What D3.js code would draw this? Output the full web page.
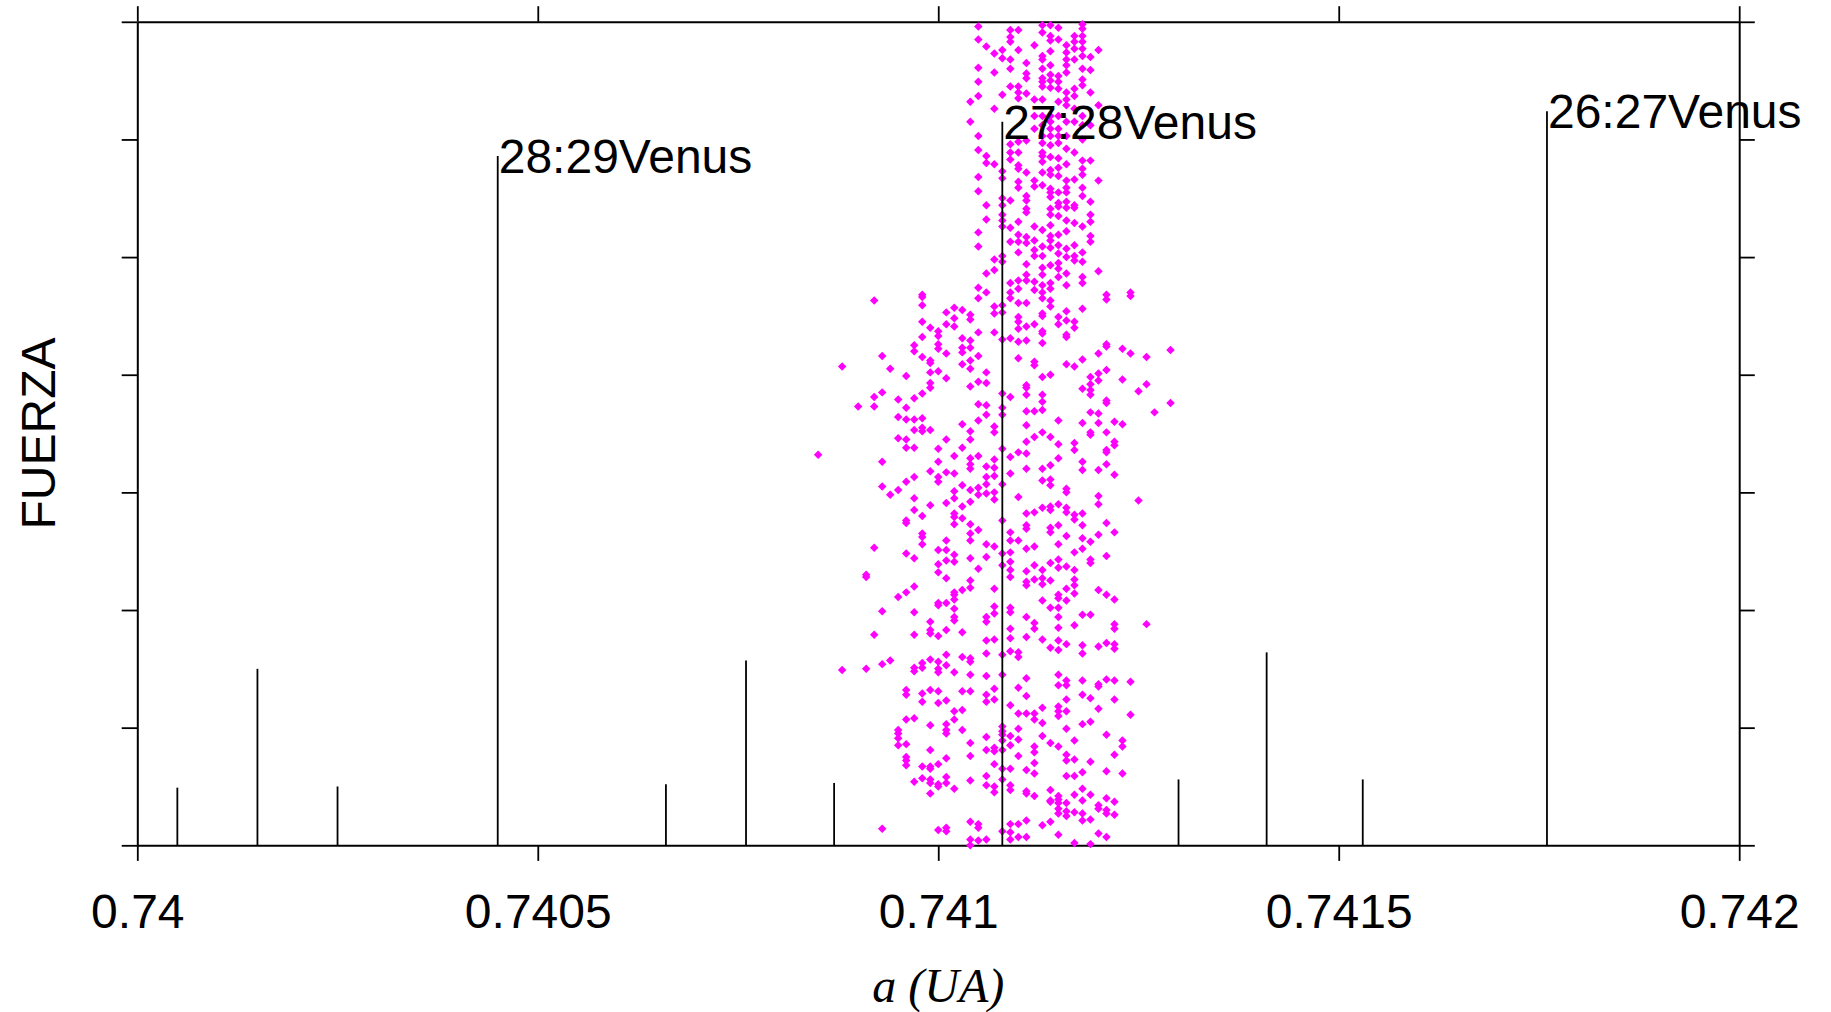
<!DOCTYPE html>
<html>
<head>
<meta charset="utf-8">
<script src="https://cdn.jsdelivr.net/npm/d3@7"></script>
<style>
    body { margin: 0; background: #fff; }
    svg { display: block; background: #fff; }
</style>
</head>
<body>
<div id="content-container"></div>
<script>
// axis ticks
const xTicks = [0.74, 0.7405, 0.741, 0.7415, 0.742]
const xTickLabels = ['0.74', '0.7405', '0.741', '0.7415', '0.742']
const yTicks = [0, 1, 2, 3, 4, 5, 6, 7]

// resonances (a in UA, strength)
const resA = [0.74005, 0.74015, 0.74025, 0.74045, 0.74066, 0.74076, 0.74087, 0.74108, 0.7413, 0.74141, 0.74153, 0.74176]
const resF = [0.49, 1.50, 0.50, 5.86, 0.52, 1.57, 0.53, 6.15, 0.56, 1.64, 0.56, 6.24]
const resLabel = ['', '', '', '28:29Venus', '', '', '', '27:28Venus', '', '', '', '26:27Venus']

// particles: one column per value of a, with the y values of that column
const dotColA = [0.74085, 0.74088, 0.7409, 0.74091, 0.74092, 0.74093, 0.74094, 0.74095, 0.74096, 0.74097,
    0.74098, 0.74099, 0.741, 0.74101, 0.74102, 0.74103, 0.74104, 0.74105, 0.74106, 0.74107,
    0.74108, 0.74109, 0.7411, 0.74111, 0.74112, 0.74113, 0.74114, 0.74115, 0.74116, 0.74117,
    0.74118, 0.74119, 0.7412, 0.74121, 0.74122, 0.74123, 0.74124, 0.74125, 0.74126, 0.74127, 0.74129]
const dotColF = [
    [3.32],
    [4.07, 1.49],
    [3.73],
    [2.30, 2.28, 1.50],
    [4.63, 3.81, 3.73, 2.53, 1.79],
    [4.16, 3.85, 3.26, 3.05, 1.99, 1.54, 0.14],
    [4.05, 2.98, 1.57],
    [3.79, 3.64, 3.46, 3.02, 2.11, 0.98, 0.95, 0.91, 0.85],
    [3.99, 3.72, 3.62, 3.45, 3.38, 3.09, 2.76, 2.74, 2.48, 2.15, 1.32, 1.28, 1.07, 0.86, 0.75, 0.72, 0.68],
    [4.25, 4.20, 3.80, 3.62, 3.53, 3.38, 3.13, 2.95, 2.85, 2.44, 2.20, 1.98, 1.79, 1.51, 1.48, 1.08, 0.54],
    [4.68, 4.66, 4.59, 4.45, 4.32, 4.15, 3.84, 3.63, 3.55, 3.52, 2.80, 2.65, 2.62, 2.56, 1.55, 1.51, 1.29, 1.22, 0.67, 0.57],
    [4.40, 4.12, 4.10, 4.02, 3.93, 3.89, 3.53, 3.18, 2.89, 1.90, 1.83, 1.80, 1.58, 1.32, 1.02, 0.81, 0.67, 0.65, 0.56, 0.53, 0.44],
    [4.37, 4.33, 4.26, 4.22, 4.03, 3.37, 3.26, 3.13, 3.09, 2.51, 2.39, 2.32, 2.06, 2.04, 1.78, 1.56, 1.50, 1.47, 1.31, 1.21, 0.69, 0.52, 0.50, 0.13],
    [4.53, 4.43, 4.18, 3.97, 3.45, 3.17, 2.91, 2.59, 2.51, 2.42, 2.27, 2.06, 1.83, 1.62, 1.53, 1.23, 1.03, 0.98, 0.95, 0.74, 0.58, 0.53, 0.15, 0.12],
    [4.57, 4.48, 4.41, 3.31, 3.16, 3.01, 2.95, 2.82, 2.79, 2.73, 2.47, 2.41, 2.15, 2.13, 2.09, 2.01, 1.94, 1.91, 1.47, 1.14, 1.07, 0.48],
    [4.55, 4.31, 4.23, 4.19, 4.09, 3.58, 3.38, 3.06, 2.88, 2.78, 2.17, 1.81, 1.60, 1.31, 1.15, 0.98],
    [6.32, 6.15, 4.51, 4.47, 4.29, 4.23, 4.12, 4.05, 3.90, 3.52, 3.45, 3.29, 3.24, 3.20, 3.02, 2.92, 2.73, 2.65, 2.59, 2.44, 2.25, 2.19, 1.59, 1.56, 1.45, 1.31, 0.87, 0.76, 0.55, 0.20, 0.05, 0.00],
    [6.96, 6.85, 6.61, 6.49, 6.37, 6.03, 5.91, 5.68, 5.56, 5.21, 5.09, 4.74, 4.65, 4.36, 4.16, 3.94, 3.75, 3.61, 3.31, 3.04, 2.98, 2.68, 2.35, 0.18, 0.15, 0.04],
    [6.79, 5.86, 5.80, 5.44, 5.32, 4.86, 4.70, 4.02, 3.93, 3.74, 3.66, 3.22, 3.13, 3.07, 2.99, 2.56, 2.45, 1.94, 1.90, 1.74, 1.63, 1.44, 1.28, 1.22, 0.92, 0.81, 0.59, 0.51, 0.05],
    [6.73, 6.57, 6.26, 5.79, 4.98, 4.89, 4.58, 4.52, 4.36, 3.56, 3.51, 3.28, 3.21, 3.14, 3.00, 2.94, 2.54, 2.18, 2.03, 1.97, 1.75, 1.33, 1.24, 0.83, 0.80, 0.69, 0.50, 0.45],
    [6.76, 6.69, 6.38, 5.73, 5.67, 5.50, 5.44, 5.36, 5.31, 5.26, 5.01, 4.96, 4.59, 4.53, 4.30, 3.84, 3.72, 3.66, 3.37, 3.07, 2.76, 2.48, 2.38, 1.62, 1.45, 1.01, 0.97, 0.94, 0.89, 0.81, 0.65, 0.56, 0.12],
    [6.93, 6.87, 6.83, 6.68, 6.60, 6.45, 5.96, 5.89, 5.83, 5.48, 5.25, 5.13, 4.78, 4.70, 4.65, 4.31, 3.81, 3.30, 3.16, 2.66, 2.59, 2.49, 2.41, 2.34, 2.28, 2.02, 1.98, 1.84, 1.76, 1.65, 1.19, 0.93, 0.85, 0.65, 0.51, 0.47, 0.18, 0.11, 0.05],
    [6.93, 6.76, 6.45, 6.40, 6.35, 5.98, 5.89, 5.78, 5.75, 5.64, 5.59, 5.30, 5.19, 5.13, 5.04, 4.80, 4.73, 4.61, 4.49, 4.45, 4.39, 4.28, 4.14, 3.34, 2.96, 2.59, 1.64, 1.60, 1.34, 1.12, 0.99, 0.90, 0.76, 0.18, 0.07],
    [6.65, 6.56, 6.52, 6.39, 5.99, 5.72, 5.52, 5.48, 5.41, 5.38, 5.17, 5.12, 4.94, 4.85, 4.80, 4.61, 4.41, 4.29, 3.91, 3.89, 3.83, 3.69, 3.57, 3.43, 3.33, 3.20, 2.82, 2.72, 2.69, 2.52, 2.33, 2.24, 2.21, 1.94, 1.77, 1.42, 1.27, 1.12, 0.64, 0.46, 0.44, 0.21, 0.07],
    [6.80, 6.34, 6.20, 6.09, 5.65, 5.60, 5.26, 5.14, 5.06, 5.01, 4.79, 4.72, 4.43, 4.11, 4.08, 3.69, 3.47, 2.83, 2.54, 2.38, 2.26, 1.89, 1.84, 1.12, 1.07, 0.84, 0.79, 0.70, 0.61, 0.42],
    [6.97, 6.91, 6.71, 6.68, 6.60, 6.52, 6.49, 6.45, 6.34, 6.20, 6.12, 6.03, 5.97, 5.89, 5.86, 5.81, 5.72, 5.61, 5.23, 5.09, 5.01, 4.91, 4.85, 4.76, 4.70, 4.65, 4.52, 4.50, 4.37, 4.35, 4.27, 3.98, 3.83, 3.77, 3.70, 3.51, 3.20, 3.10, 2.87, 2.34, 2.27, 2.22, 2.08, 1.75, 1.17, 1.04, 0.93, 0.17],
    [6.97, 6.88, 6.84, 6.75, 6.63, 6.55, 6.50, 6.44, 6.20, 6.15, 6.09, 6.03, 5.95, 5.85, 5.74, 5.70, 5.58, 5.55, 5.51, 5.41, 5.36, 5.27, 5.18, 5.14, 5.08, 4.93, 4.78, 4.73, 4.63, 4.58, 4.00, 3.47, 3.23, 3.11, 3.06, 2.88, 2.85, 2.70, 2.66, 2.40, 2.25, 2.02, 1.68, 0.87, 0.47, 0.38, 0.37, 0.20],
    [6.95, 6.85, 6.54, 6.49, 6.43, 6.32, 6.20, 6.09, 6.03, 5.97, 5.84, 5.76, 5.69, 5.55, 5.46, 5.43, 5.35, 5.19, 5.10, 5.03, 4.95, 4.90, 4.83, 4.49, 4.43, 3.61, 3.41, 3.29, 2.90, 2.72, 2.56, 2.43, 2.36, 2.13, 2.10, 2.02, 1.94, 1.85, 1.74, 1.66, 1.45, 1.36, 1.18, 1.14, 1.10, 0.84, 0.42, 0.39, 0.36, 0.31, 0.27, 0.09],
    [6.80, 6.74, 6.68, 6.63, 6.57, 6.40, 6.34, 6.29, 6.15, 6.03, 5.92, 5.79, 5.65, 5.59, 5.55, 5.47, 5.42, 5.31, 5.22, 5.07, 5.00, 4.86, 4.76, 4.54, 4.46, 4.34, 4.32, 4.09, 3.03, 3.00, 2.87, 2.83, 2.63, 2.37, 2.18, 2.08, 1.71, 1.40, 1.36, 1.24, 1.14, 0.99, 0.77, 0.72, 0.59, 0.36, 0.29, 0.25],
    [6.88, 6.83, 6.77, 6.68, 6.43, 6.37, 6.26, 6.15, 5.89, 5.66, 5.44, 5.42, 5.29, 5.10, 5.01, 4.97, 4.45, 4.40, 4.07, 3.42, 3.36, 2.81, 2.77, 2.49, 2.34, 2.26, 2.21, 2.14, 1.87, 0.89, 0.73, 0.59, 0.43, 0.28, 0.02],
    [6.98, 6.94, 6.88, 6.83, 6.77, 6.71, 6.60, 6.51, 6.46, 6.20, 6.12, 6.00, 5.82, 5.75, 5.70, 5.59, 5.52, 5.26, 5.04, 4.96, 4.83, 4.78, 4.56, 4.13, 3.88, 3.59, 3.26, 3.19, 2.82, 2.72, 2.61, 2.52, 1.96, 1.70, 1.63, 1.40, 1.28, 1.03, 0.62, 0.48, 0.38, 0.27, 0.21],
    [6.70, 6.59, 6.40, 6.12, 5.82, 5.47, 5.36, 5.30, 5.18, 5.13, 3.98, 3.92, 3.87, 3.83, 3.68, 3.51, 3.49, 2.58, 2.43, 2.40, 1.96, 1.25, 1.05, 0.71, 0.43, 0.22, 0.01],
    [6.76, 6.29, 5.65, 4.88, 4.18, 4.01, 3.95, 3.67, 3.59, 3.19, 2.97, 2.90, 2.64, 2.17, 1.69, 1.37, 1.35, 1.16, 0.34, 0.31, 0.10],
    [4.68, 4.64, 4.26, 4.24, 4.04, 3.78, 3.76, 3.51, 3.36, 3.34, 3.24, 2.74, 2.46, 2.13, 1.72, 1.41, 0.94, 0.63, 0.40, 0.30, 0.27, 0.07],
    [3.60, 3.43, 3.40, 3.15, 2.66, 2.09, 1.88, 1.84, 1.71, 1.67, 1.40, 1.24, 0.77, 0.37, 0.26],
    [4.22, 3.96, 3.58, 0.89, 0.84, 0.61],
    [4.70, 4.67, 4.18, 1.39, 1.11],
    [3.86, 2.93],
    [4.15, 3.92, 1.88],
    [3.68],
    [4.21, 3.76]
]

const W = 1831
const H = 1012
const sans = '"Liberation Sans", Arial, Helvetica, sans-serif'
const fontSize = 48

const svg = d3.select('#content-container').append('svg')
    .attr('width', W)
    .attr('height', H)

const xScale = d3.scaleLinear()
    .domain([0.74, 0.742])
    .range([137.3, 1739.2])

const yScale = d3.scaleLinear()
    .domain([0, 7])
    .range([845.3, 21.8])

const tickLen = 15.6

const styleAxis = g => {
    g.attr('font-family', sans).attr('font-size', fontSize)
    g.select('.domain').attr('stroke', '#000').attr('stroke-width', 2)
    g.selectAll('.tick line').attr('stroke', '#000').attr('stroke-width', 1.8)
    g.selectAll('.tick text').attr('fill', '#000')
}

// bottom axis with labels
svg.append('g')
    .attr('transform', `translate(0,${yScale(0)})`)
    .call(d3.axisBottom(xScale)
        .tickValues(xTicks)
        .tickFormat((d, i) => xTickLabels[i])
        .tickSize(tickLen)
        .tickSizeOuter(0)
        .tickPadding(33))
    .call(styleAxis)

// top axis, ticks only
svg.append('g')
    .attr('transform', `translate(0,${yScale(7)})`)
    .call(d3.axisTop(xScale).tickValues(xTicks).tickFormat('').tickSize(tickLen).tickSizeOuter(0))
    .call(styleAxis)

// left + right, ticks only (FUERZA has no numbers)
svg.append('g')
    .attr('transform', `translate(${xScale(0.74)},0)`)
    .call(d3.axisLeft(yScale).tickValues(yTicks).tickFormat('').tickSize(tickLen).tickSizeOuter(0))
    .call(styleAxis)

svg.append('g')
    .attr('transform', `translate(${xScale(0.742)},0)`)
    .call(d3.axisRight(yScale).tickValues(yTicks).tickFormat('').tickSize(tickLen).tickSizeOuter(0))
    .call(styleAxis)

// particles
const points = dotColA.flatMap((a, i) => dotColF[i].map(f => ({ a: a, f: f })))
const diamond = d3.symbol().type(d3.symbolSquare).size(36)

svg.append('g').attr('class', 'dots')
    .selectAll('path')
    .data(points)
    .enter()
    .append('path')
        .attr('d', diamond)
        .attr('transform', d => `translate(${xScale(d.a)},${yScale(d.f)}) rotate(45)`)
        .attr('fill', '#ff00ff')

// resonance lines go on top of the dots
const res = resA.map((a, i) => ({ a: a, f: resF[i], label: resLabel[i] }))

svg.append('g').attr('class', 'res')
    .selectAll('line')
    .data(res)
    .enter()
    .append('line')
        .attr('x1', d => xScale(d.a))
        .attr('x2', d => xScale(d.a))
        .attr('y1', yScale(0))
        .attr('y2', d => yScale(d.f))
        .attr('stroke', '#000')
        .attr('stroke-width', 1.8)

svg.append('g').attr('class', 'res-labels')
    .selectAll('text')
    .data(res.filter(d => d.label))
    .enter()
    .append('text')
        .attr('x', d => xScale(d.a) + 1)
        .attr('y', d => yScale(d.f))
        .attr('dy', '0.36em')
        .attr('font-family', sans)
        .attr('font-size', fontSize)
        .attr('fill', '#000')
        .text(d => d.label)

// axis titles
svg.append('text')
    .attr('transform', 'translate(55,433.5) rotate(-90)')
    .attr('text-anchor', 'middle')
    .attr('font-family', sans)
    .attr('font-size', fontSize)
    .attr('fill', '#000')
    .text('FUERZA')

svg.append('text')
    .attr('x', (xScale(0.74) + xScale(0.742)) / 2)
    .attr('y', 1002)
    .attr('text-anchor', 'middle')
    .attr('font-family', '"Liberation Serif", "Times New Roman", serif')
    .attr('font-style', 'italic')
    .attr('font-size', fontSize)
    .attr('fill', '#000')
    .text('a (UA)')
</script>
</body>
</html>
